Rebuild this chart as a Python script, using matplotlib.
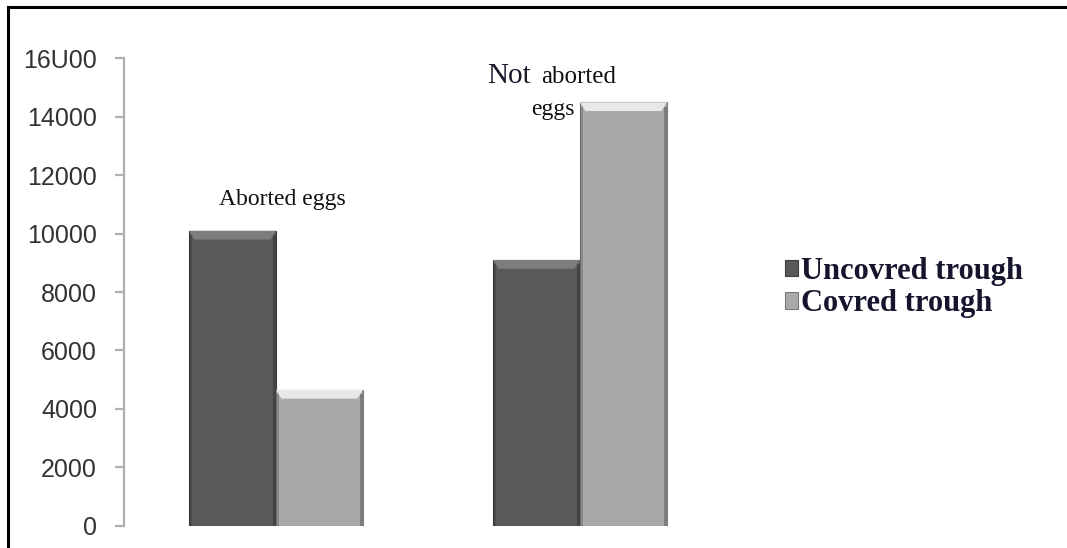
import numpy as np
import matplotlib
matplotlib.use("Agg")
import matplotlib.pyplot as plt
from matplotlib.patches import Polygon, Rectangle
from matplotlib.lines import Line2D

# egg counts per trough type
groups = ['Aborted eggs', 'Not aborted eggs']
uncovered = [10100, 9100]
covered = [4650, 14500]
series_names = ['Uncovred trough', 'Covred trough']
yticks = [0, 2000, 4000, 6000, 8000, 10000, 12000, 14000, 16000]
ytick_labels = ['0', '2000', '4000', '6000', '8000', '10000', '12000', '14000', '16U00']

dark = '#595959'
light = '#a9a9a9'

fig = plt.figure(figsize=(10.67, 5.48), dpi=100)
ax = fig.add_axes([0.1162, 0.0407, 0.5698, 0.8526])

x = np.arange(len(groups))
w = 0.286
b1 = ax.bar(x - w / 2, uncovered, w, color=dark, edgecolor='#3c3c3c', lw=0.8, zorder=2)
b2 = ax.bar(x + w / 2, covered, w, color=light, edgecolor='#7a7a7a', lw=0.8, zorder=2)

ax.set_xlim(-0.5, 1.5)
ax.set_ylim(0, 16000)


def bevel(bars, top_col, side_col):
    # fake 3d bevel: lighter top band and darker side strips
    for r in bars:
        x0, w0, h = r.get_x(), r.get_width(), r.get_height()
        bx, by = 0.018, 300
        ax.add_patch(Polygon([(x0, h), (x0 + w0, h), (x0 + w0 - bx, h - by), (x0 + bx, h - by)],
                             closed=True, fc=top_col, ec='none', zorder=3))
        ax.add_patch(Rectangle((x0, 0), bx * 0.6, h - by * 0.5, fc=side_col, ec='none',
                               alpha=0.35, zorder=3))
        ax.add_patch(Rectangle((x0 + w0 - bx * 0.6, 0), bx * 0.6, h - by * 0.5, fc=side_col,
                               ec='none', alpha=0.5, zorder=3))


bevel(b1, '#7d7d7d', '#2e2e2e')
bevel(b2, '#e8e8e8', '#555555')

# axis styling
for s in ['top', 'right', 'bottom']:
    ax.spines[s].set_visible(False)
ax.spines['left'].set_color('#b0b0b0')
ax.spines['left'].set_linewidth(1.6)
ax.set_xticks([])
ax.set_yticks(yticks)
ax.set_yticklabels(ytick_labels, fontsize=18, color='#333333', family='Liberation Sans')
ax.tick_params(axis='y', direction='out', length=6.5, width=1.6, color='#b0b0b0', pad=13)

# group captions, drawn under the bars
serif = 'Liberation Serif'
ax.text(-0.1875, 10976, 'Aborted eggs', fontsize=17, family=serif, color='#111111',
        ha='left', va='baseline', zorder=1)
ax.text(0.694, 15160, 'Not', fontsize=21, family=serif, color='#1a1a2a',
        ha='left', va='baseline', zorder=1)
ax.text(0.872, 15160, 'aborted', fontsize=18, family=serif, color='#111111',
        ha='left', va='baseline', zorder=1)
ax.text(0.839, 14065, 'eggs', fontsize=17, family=serif, color='#111111',
        ha='left', va='baseline', zorder=1)

leg = ax.legend([b1, b2], series_names, loc='center left', bbox_to_anchor=(0.721, 0.475),
                bbox_transform=fig.transFigure, frameon=False, handlelength=0.45,
                handleheight=0.45, handletextpad=0.1, labelspacing=0.1, borderpad=0,
                prop={'family': serif, 'weight': 'bold', 'size': 22})
for t in leg.get_texts():
    t.set_color('#15152e')

# outer frame (left and top edges)
fig.add_artist(Line2D([8 / 1067, 8 / 1067], [0, 1 - 7 / 548], transform=fig.transFigure,
                      color='black', lw=2.2))
fig.add_artist(Line2D([8 / 1067, 1], [1 - 7 / 548, 1 - 7 / 548], transform=fig.transFigure,
                      color='black', lw=2.2))

fig.savefig('out.png', dpi=100)
